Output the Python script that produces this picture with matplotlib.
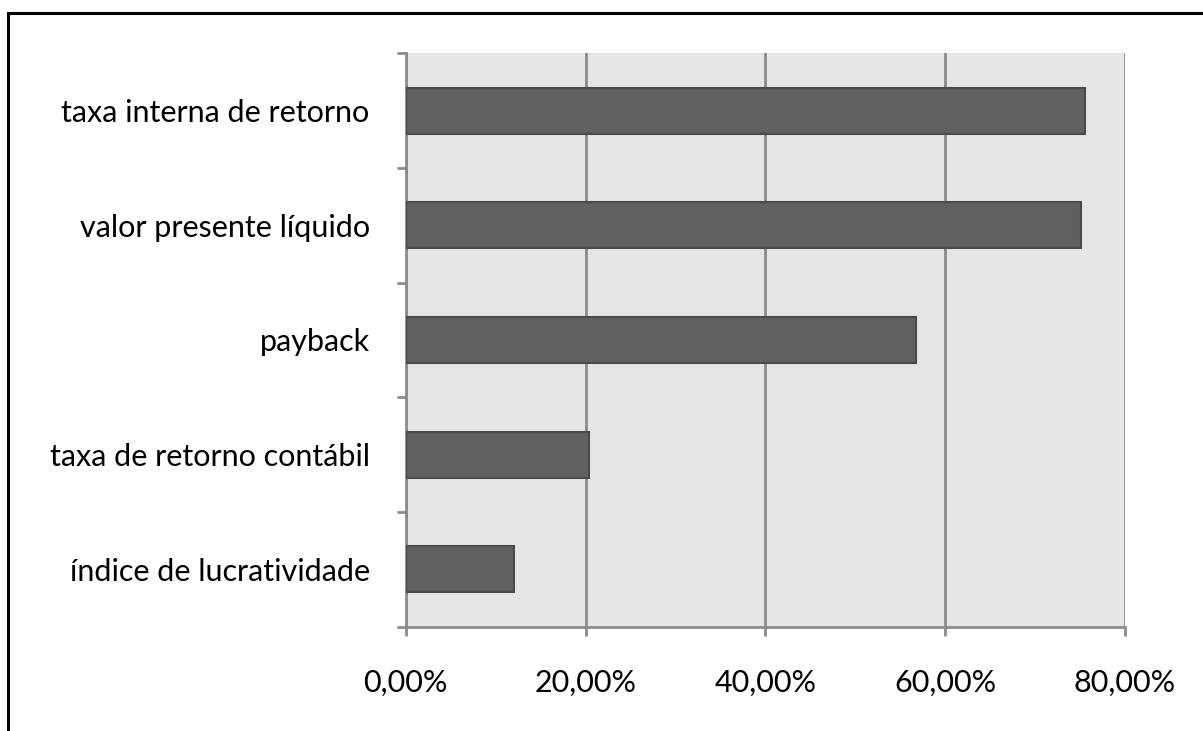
import matplotlib.pyplot as plt
from matplotlib.lines import Line2D
from matplotlib.ticker import FuncFormatter, FixedLocator

plt.rcParams['font.family'] = ['Lato', 'DejaVu Sans']

categorias = ['índice de lucratividade', 'taxa de retorno contábil', 'payback',
              'valor presente líquido', 'taxa interna de retorno']
valores = [12.0, 20.35, 56.7, 75.1, 75.6]
xticks = [0, 20, 40, 60, 80]

fig = plt.figure(figsize=(12.03, 7.31), dpi=100)
ax = fig.add_axes([0.3373, 0.1427, 0.5979, 0.7844])

ax.set_facecolor('#e6e6e6')
pos = list(range(len(categorias)))
ax.barh(pos, valores, height=0.4, color='#606060', edgecolor='#4a4a4a',
        linewidth=1.5, zorder=3)

ax.set_xlim(0, 80)
ax.set_ylim(-0.5, len(categorias) - 0.5)
ax.set_xticks(xticks)
ax.xaxis.set_major_formatter(FuncFormatter(lambda v, p: f'{v:.2f}%'.replace('.', ',')))
ax.grid(axis='x', color='#8c8c8c', linewidth=2, zorder=1)

ax.set_yticks(pos)
ax.set_yticklabels(categorias)
ax.yaxis.set_minor_locator(FixedLocator([p - 0.5 for p in range(len(categorias) + 1)]))
ax.tick_params(axis='y', which='major', length=0, pad=26, labelsize=22)
ax.tick_params(axis='y', which='minor', length=6.5, width=2, color='#8c8c8c')
ax.tick_params(axis='x', length=6.5, width=2, color='#8c8c8c', pad=24, labelsize=22)

for s in ['top', 'right']:
    ax.spines[s].set_visible(False)
for s in ['left', 'bottom']:
    ax.spines[s].set_color('#8c8c8c')
    ax.spines[s].set_linewidth(2)

# moldura preta (so topo e lado esquerdo aparecem)
fig.add_artist(Line2D([0.0067, 1.0], [0.9822, 0.9822], color='black', linewidth=2.2))
fig.add_artist(Line2D([0.0067, 0.0067], [0.0, 0.9822], color='black', linewidth=2.2))

fig.savefig('out.png', dpi=100)
